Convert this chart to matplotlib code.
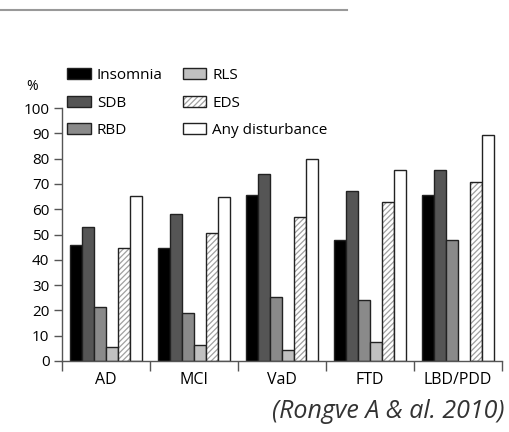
import matplotlib.pyplot as plt
import numpy as np
from matplotlib.lines import Line2D

# values (% of patients)
groups = ["AD", "MCI", "VaD", "FTD", "LBD/PDD"]
insomnia = [46, 44.5, 65.5, 47.8, 65.5]
sdb = [53, 58, 73.8, 67.3, 75.5]
rbd = [21.5, 19, 25.2, 24.1, 47.8]
rls = [5.5, 6.3, 4.3, 7.6, 0]
eds = [44.6, 50.4, 57, 63, 70.9]
any_dist = [65.2, 65, 80, 75.5, 89.3]

series = ["Insomnia", "SDB", "RBD", "RLS", "EDS", "Any disturbance"]
colors = ["#000000", "#555555", "#8a8a8a", "#c0c0c0", "white", "white"]

plt.rcParams['font.family'] = ['Open Sans', 'DejaVu Sans']
plt.rcParams['hatch.linewidth'] = 0.9

fig = plt.figure(figsize=(5.1, 4.32), dpi=100)
ax = fig.add_axes([62 / 510, 1 - 361 / 432, 440 / 510, 253 / 432])

x = np.arange(len(groups))
w = 0.137
data = [insomnia, sdb, rbd, rls, eds, any_dist]
handles = []
for i, (vals, c, name) in enumerate(zip(data, colors, series)):
    pos = x + (i - 2.5) * w
    keep = [j for j, v in enumerate(vals) if v > 0]
    p = pos[keep]
    v = [vals[j] for j in keep]
    if name == "EDS":
        h1 = ax.bar(p, v, w, color="white", edgecolor="#a0a0a0", linewidth=0, hatch="//////")
        h2 = ax.bar(p, v, w, fill=False, edgecolor="#222222", linewidth=1.0)
        handles.append((h1, h2))
    else:
        b = ax.bar(p, v, w, color=c, edgecolor="#222222", linewidth=1.0)
        handles.append(b)

ax.set_xlim(-0.5, 4.5)
ax.set_ylim(0, 100)
ax.set_yticks(np.arange(0, 101, 10))
ax.set_xticks(x)
ax.set_xticklabels(groups)
ax.set_xticks(np.arange(-0.5, 4.6, 1), minor=True)
ax.tick_params(axis="x", which="major", length=0, pad=8, labelsize=11.5)
ax.tick_params(axis="x", which="minor", length=7, color="#555555", width=1)
ax.tick_params(axis="y", length=6, color="#555555", width=1, labelsize=11, pad=3)
for s in ["top", "right"]:
    ax.spines[s].set_visible(False)
for s in ["left", "bottom"]:
    ax.spines[s].set_color("#555555")
    ax.spines[s].set_linewidth(1)
ax.patch.set_alpha(0)

fig.text(32 / 510, 1 - 87 / 432, "%", fontsize=10, ha="center", va="center")

fig.legend(handles, series, ncol=2, frameon=False, loc="upper left",
           bbox_to_anchor=(67 / 510, 1 - 68 / 432), bbox_transform=fig.transFigure,
           borderpad=0, borderaxespad=0, fontsize=11, handlelength=1.55,
           handleheight=0.75, handletextpad=0.4, labelspacing=0.82, columnspacing=1.3)

fig.add_artist(Line2D([0, 347 / 510], [1 - 10 / 432, 1 - 10 / 432], color="#999999", lw=1.5,
                      transform=fig.transFigure))

fig.text(505 / 510, 1 - 411 / 432, "(Rongve A & al. 2010)", fontsize=18, style="italic",
         color="#333333", ha="right", va="center")

fig.savefig("out.png", dpi=100)
